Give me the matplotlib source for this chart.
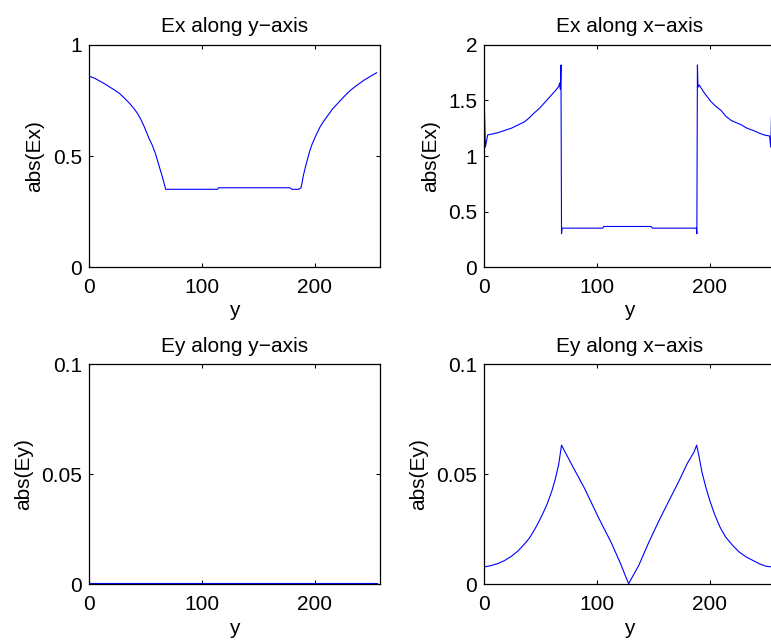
import matplotlib
matplotlib.use('Agg')
import matplotlib.pyplot as plt
from matplotlib.ticker import FuncFormatter

# Ex along y-axis (top left)
ex_y_pos = [0, 5, 9, 14, 18, 23, 27, 32, 36, 40, 43, 46, 49, 53, 56, 59, 62, 65, 67,
            68, 114, 115, 178, 180, 186, 188, 189, 190, 192, 194, 196, 198, 201, 205,
            208, 211, 216, 222, 227, 232, 238, 244, 250, 255]
ex_y_val = [0.860, 0.850, 0.839, 0.825, 0.812, 0.796, 0.782, 0.758, 0.737, 0.713,
            0.692, 0.665, 0.632, 0.582, 0.550, 0.510, 0.458, 0.407, 0.370, 0.350,
            0.350, 0.357, 0.357, 0.350, 0.350, 0.357, 0.380, 0.410, 0.452, 0.490,
            0.527, 0.555, 0.590, 0.632, 0.656, 0.677, 0.712, 0.745, 0.772, 0.797,
            0.820, 0.842, 0.860, 0.875]

# Ex along x-axis (top right)
ex_x_pos = [0, 1, 3, 8, 12, 18, 24, 30, 36, 40, 44, 49, 53, 57, 61, 64, 66, 67, 67.5,
            68, 68.5, 69, 105, 106, 148, 149, 188, 188.5, 189, 189.5, 190.5, 195, 201,
            205, 210, 214, 219, 228, 233, 239, 244, 248, 253, 254, 255]
ex_x_val = [1.48, 1.08, 1.19, 1.20, 1.21, 1.23, 1.25, 1.28, 1.31, 1.345, 1.385, 1.43,
            1.475, 1.52, 1.565, 1.60, 1.625, 1.66, 1.60, 1.82, 0.30, 0.35, 0.35, 0.365,
            0.365, 0.35, 0.35, 0.30, 1.82, 1.62, 1.64, 1.57, 1.49, 1.45, 1.41, 1.36,
            1.32, 1.28, 1.25, 1.228, 1.205, 1.19, 1.18, 1.08, 1.48]

# Ey along y-axis (bottom left) - practically zero
ey_y_pos = [0, 64, 128, 192, 255]
ey_y_val = [0.0008, 0.0008, 0.0008, 0.0008, 0.0008]

# Ey along x-axis (bottom right)
ey_x_pos = [0, 6, 12, 18, 24, 30, 36, 40, 44, 48, 52, 56, 60, 63, 66, 68.5, 77, 89,
            101, 113, 121.5, 125, 128, 137, 146, 155, 164, 173, 180, 186, 188.3,
            190.5, 193, 196.4, 200, 204, 209, 214, 220, 226, 232, 238, 244, 250, 255]
ey_x_val = [0.0079, 0.0085, 0.0094, 0.0108, 0.0127, 0.0152, 0.0185, 0.0210, 0.0243,
            0.0280, 0.0322, 0.0368, 0.0425, 0.0478, 0.0545, 0.0632, 0.0549, 0.0435,
            0.0306, 0.0185, 0.0086, 0.0040, 0.0003, 0.0086, 0.0192, 0.0290, 0.0382,
            0.0473, 0.0549, 0.0601, 0.0632, 0.0579, 0.0510, 0.0442, 0.0380, 0.0321,
            0.0260, 0.0215, 0.0178, 0.0147, 0.0125, 0.0109, 0.0093, 0.0082, 0.0079]

x_ticks = [0, 100, 200]

panels = [
    # (pos, val, title, ylabel, ylim, yticks, axes rect)
    (ex_y_pos, ex_y_val, 'Ex along y\u2212axis', 'abs(Ex)', (0, 1), [0, 0.5, 1],
     [0.1154, 0.5828, 0.3774, 0.3469]),
    (ex_x_pos, ex_x_val, 'Ex along x\u2212axis', 'abs(Ex)', (0, 2), [0, 0.5, 1, 1.5, 2],
     [0.6281, 0.5828, 0.3774, 0.3469]),
    (ey_y_pos, ey_y_val, 'Ey along y\u2212axis', 'abs(Ey)', (0, 0.1), [0, 0.05, 0.1],
     [0.1154, 0.0870, 0.3774, 0.3440]),
    (ey_x_pos, ey_x_val, 'Ey along x\u2212axis', 'abs(Ey)', (0, 0.1), [0, 0.05, 0.1],
     [0.6281, 0.0870, 0.3774, 0.3440]),
]

plt.rcParams['font.family'] = ['Liberation Sans', 'DejaVu Sans']
fs = 15

fig = plt.figure(figsize=(7.71, 6.4), dpi=100)

for pos, val, title, ylab, ylim, yticks, rect in panels:
    ax = fig.add_axes(rect)
    ax.plot(pos, val, color='blue', linewidth=0.8)
    ax.set_xlim(0, 258)
    ax.set_ylim(*ylim)
    ax.set_xticks(x_ticks)
    ax.set_yticks(yticks)
    ax.yaxis.set_major_formatter(FuncFormatter(lambda v, p: '%g' % v))
    ax.tick_params(direction='in', top=True, right=True, length=3, width=0.75,
                   labelsize=fs)
    ax.tick_params(axis='x', pad=8)
    ax.tick_params(axis='y', pad=5)
    for sp in ax.spines.values():
        sp.set_linewidth(0.9)
    ax.set_title(title, fontsize=fs, pad=9)
    ax.set_xlabel('y', fontsize=fs, labelpad=3)
    ax.set_ylabel(ylab, fontsize=fs, labelpad=6)

fig.savefig('out.png', dpi=100)
